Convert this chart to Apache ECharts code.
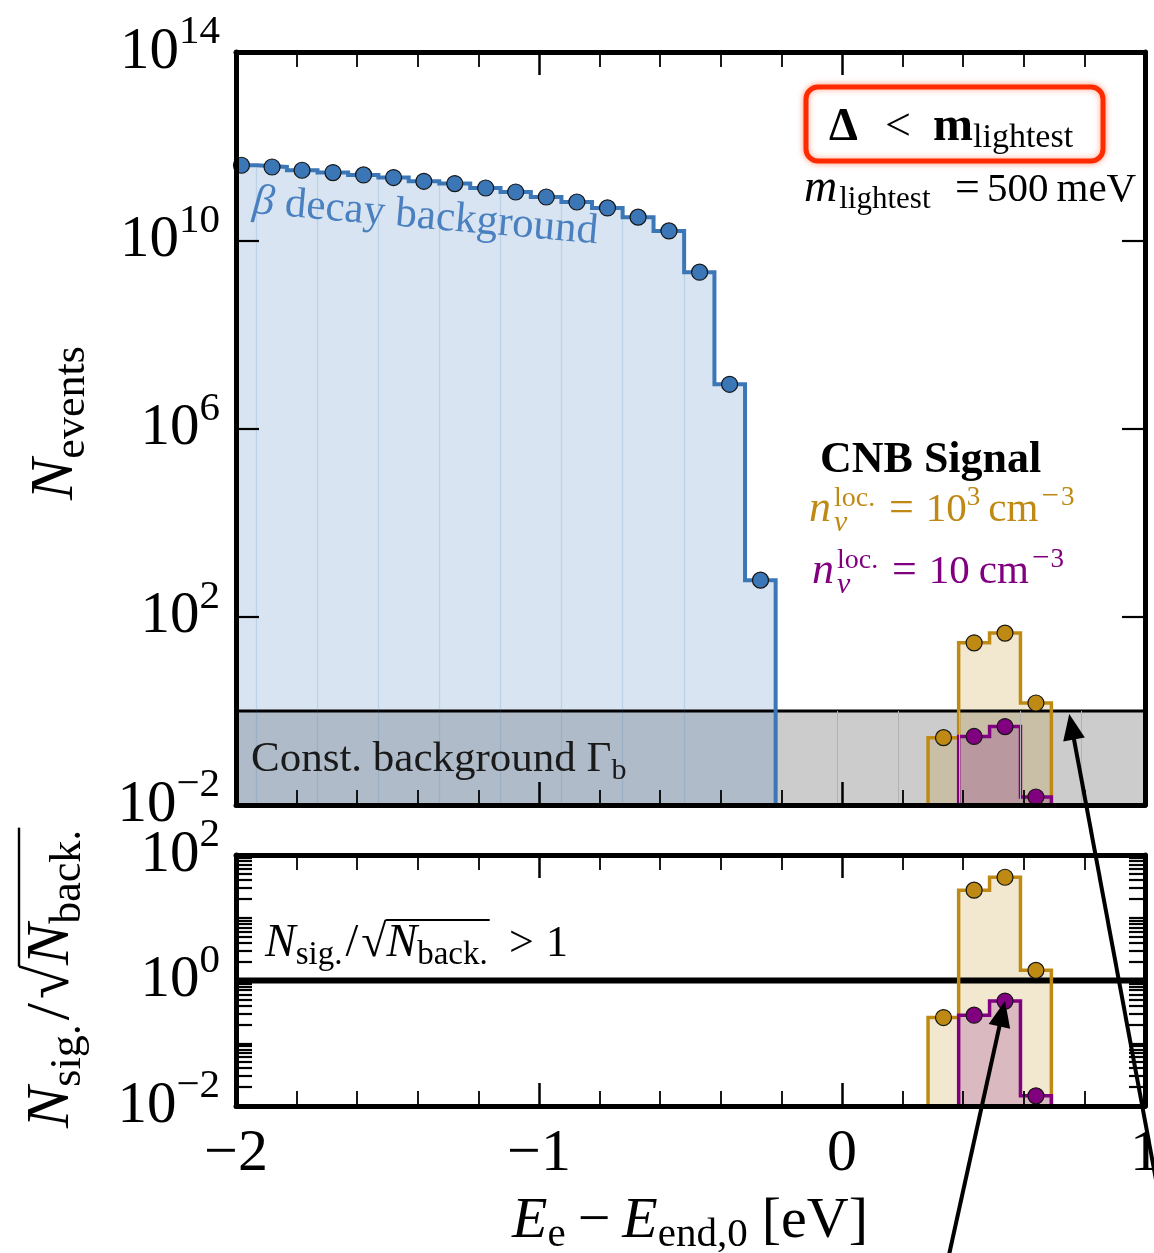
<!DOCTYPE html>
<html>
<head>
<meta charset="utf-8">
<script src="https://cdn.jsdelivr.net/npm/echarts@6/dist/echarts.min.js"></script>
<style>
  html, body { margin: 0; padding: 0; background: #fff; }
  #chart { width: 1154px; height: 1253px; }
</style>
</head>
<body>
<div id="chart"></div>
<script>
// ---- energy axis (E_e - E_end,0, eV) ----
const xMin = -2, xMax = 1;

// ---- beta-decay background: 0.1 eV bins ----
const betaEdges = [-2.032, -1.932, -1.832, -1.731, -1.630, -1.530, -1.430, -1.329, -1.227,
                   -1.127, -1.027, -0.926, -0.825, -0.724, -0.622, -0.521, -0.421, -0.320, -0.219];
const betaCenters = [-1.982, -1.881, -1.782, -1.680, -1.579, -1.480, -1.380, -1.278, -1.176,
                     -1.077, -0.976, -0.875, -0.774, -0.673, -0.571, -0.470, -0.371, -0.269];
const betaCounts = [3.92e11, 3.6e11, 3.07e11, 2.74e11, 2.44e11, 2.15e11, 1.79e11, 1.6e11, 1.29e11,
                    1.06e11, 8.3e10, 6.5e10, 4.86e10, 3.1e10, 1.58e10, 2.1e9, 8.7e6, 6.0e2];

// ---- constant background rate per bin ----
const gammaB = 1;

// ---- CNB signal bins ----
const goldEdges = [0.284, 0.385, 0.487, 0.589, 0.691];
const goldCenters = [0.335, 0.436, 0.538, 0.640];
const goldCounts = [0.27, 27.9, 44.9, 1.47];          // n_nu = 10^3 cm^-3
const purpleEdges = [0.385, 0.487, 0.589, 0.691];
const purpleCenters = [0.436, 0.538, 0.640];
const purpleCounts = [0.286, 0.464, 0.0148];          // n_nu = 10 cm^-3

// ---- significance N_sig / sqrt(N_back) ----
const goldRatio = [0.257, 27.5, 44.2, 1.45];
const purpleRatio = [0.28, 0.47, 0.0145];
const sigThreshold = 1;

// ---- axis ranges and tick labels ----
const nMin = 1e-2, nMax = 1e14;
const nTickValues = [1e2, 1e6, 1e10];
const nLabelValues = [1e-2, 1e2, 1e6, 1e10, 1e14];
const rMin = 1e-2, rMax = 1e2;
const rLabelValues = [1e-2, 1, 1e2];

// faint seams inside the filled regions
const grayBandX = [-0.015, 0.186, 0.387, 0.587, 0.788];

const blue = '#3b77b7', gold = '#bf8a14', purple = '#800080';
const SERIF = "'Liberation Serif', 'DejaVu Serif', serif";

// log-decade minor ticks (1..9 x 10^k) for the significance panel
const rTickValues = [];
for (let k = -2; k < 2; k++) for (let m = 1; m <= 9; m++) rTickValues.push(+(m * Math.pow(10, k)).toPrecision(3));
rTickValues.push(100);

function expLabel(v) {
  const n = Math.round(Math.log10(v));
  return '{b|10}{e|' + (n < 0 ? '\u2212' + (-n) : String(n)) + '}';
}
const expRich = {
  b: { fontSize: 59, fontFamily: SERIF, color: '#000' },
  e: { fontSize: 41, fontFamily: SERIF, color: '#000', padding: [0, 0, 39, 0] }
};

function xAxisCfg(grid, pos, showLabels) {
  return {
    type: 'value', gridIndex: grid, position: pos, min: xMin, max: xMax, interval: 1, z: 10,
    axisLine: { show: true, onZero: false, lineStyle: { color: '#000', width: 5 } },
    axisTick: { show: true, inside: true, length: 23, lineStyle: { color: '#000', width: 2.5 } },
    minorTick: { show: true, splitNumber: 5, length: 15, lineStyle: { color: '#000', width: 1.8 } },
    splitLine: { show: false }, minorSplitLine: { show: false },
    axisLabel: showLabels ? {
      show: true, margin: 18, fontSize: 60, fontFamily: SERIF, color: '#000',
      formatter: v => (v < 0 ? '\u2212' + Math.abs(v) : String(v))
    } : { show: false }
  };
}

function yAxisCfg(grid, pos, min, max, ticks, labels, tickLen) {
  return {
    type: 'log', logBase: 10, gridIndex: grid, position: pos, min, max, z: 10,
    axisLine: { show: true, onZero: false, lineStyle: { color: '#000', width: 5 } },
    axisTick: { show: true, inside: true, length: tickLen, customValues: ticks,
                lineStyle: { color: '#000', width: 2.2 } },
    minorTick: { show: false },
    splitLine: { show: false },
    axisLabel: labels ? {
      show: true, margin: 16, customValues: labels, formatter: expLabel, rich: expRich
    } : { show: false }
  };
}

function stepPath(edges, vals, floor) {
  const pts = [[edges[0], floor]];
  vals.forEach((v, i) => { pts.push([edges[i], v], [edges[i + 1], v]); });
  pts.push([edges[edges.length - 1], floor]);
  return pts;
}

function stepSeries(ax, edges, vals, floor, color, width, fill, fillOpacity, extra) {
  return Object.assign({
    type: 'line', xAxisIndex: ax, yAxisIndex: ax, data: stepPath(edges, vals, floor),
    showSymbol: false, symbol: 'none', silent: true, animation: false, clip: true,
    lineStyle: { color, width, join: 'miter' },
    areaStyle: { color: fill, opacity: fillOpacity, origin: 'start' }
  }, extra || {});
}

function dots(ax, xs, ys, color) {
  return {
    type: 'scatter', xAxisIndex: ax, yAxisIndex: ax, data: xs.map((x, i) => [x, ys[i]]),
    symbol: 'circle', symbolSize: 16, silent: true, animation: false, z: 6,
    itemStyle: { color, borderColor: '#151515', borderWidth: 1.2, opacity: 1 }
  };
}

// seams inside the beta fill at every second bin edge
const betaSeams = [];
for (let i = 1; i < betaEdges.length - 2; i += 2) {
  betaSeams.push([{ coord: [betaEdges[i], nMin] },
                  { coord: [betaEdges[i], Math.min(betaCounts[i - 1], betaCounts[i])] }]);
}

const series = [
  // constant background band
  stepSeries(0, [xMin, xMax], [gammaB], nMin, '#000', 3, '#cccccc', 1, {
    markLine: {
      silent: true, symbol: ['none', 'none'], label: { show: false }, animation: false,
      lineStyle: { color: '#b2b2b2', width: 1, type: 'solid' },
      data: grayBandX.map(x => [{ coord: [x, nMin] }, { coord: [x, gammaB] }])
    }
  }),
  // CNB signal
  stepSeries(0, goldEdges, goldCounts, nMin, gold, 3.5, gold, 0.2),
  stepSeries(0, purpleEdges, purpleCounts, nMin, purple, 3.5, purple, 0.2),
  // beta decay spectrum
  stepSeries(0, betaEdges, betaCounts, nMin, blue, 4, blue, 0.2, {
    markLine: {
      silent: true, symbol: ['none', 'none'], label: { show: false }, animation: false,
      lineStyle: { color: 'rgba(59,119,183,0.16)', width: 1.2, type: 'solid' },
      data: betaSeams
    }
  }),
  dots(0, betaCenters, betaCounts, blue),
  dots(0, goldCenters, goldCounts, gold),
  dots(0, purpleCenters, purpleCounts, purple),

  // significance panel
  {
    type: 'line', xAxisIndex: 2, yAxisIndex: 2, data: [[xMin, sigThreshold], [xMax, sigThreshold]],
    showSymbol: false, symbol: 'none', silent: true, animation: false,
    lineStyle: { color: '#000', width: 6 }
  },
  stepSeries(2, goldEdges, goldRatio, rMin, gold, 3.5, gold, 0.2),
  stepSeries(2, purpleEdges, purpleRatio, rMin, purple, 3.5, purple, 0.2),
  dots(2, goldCenters, goldRatio, gold),
  dots(2, purpleCenters, purpleRatio, purple)
];

const chart = echarts.init(document.getElementById('chart'), null, { renderer: 'canvas' });

chart.setOption({
  animation: false,
  backgroundColor: '#fff',
  textStyle: { fontFamily: SERIF },
  grid: [
    { left: 236, top: 52, width: 909, height: 753, containLabel: false, outerBoundsMode: 'none' },
    { left: 236, top: 855, width: 909, height: 251, containLabel: false, outerBoundsMode: 'none' }
  ],
  xAxis: [
    xAxisCfg(0, 'bottom', false), xAxisCfg(0, 'top', false),
    xAxisCfg(1, 'bottom', true), xAxisCfg(1, 'top', false)
  ],
  yAxis: [
    yAxisCfg(0, 'left', nMin, nMax, nTickValues, nLabelValues, 23),
    yAxisCfg(0, 'right', nMin, nMax, nTickValues, null, 23),
    yAxisCfg(1, 'left', rMin, rMax, rTickValues, rLabelValues, 16),
    yAxisCfg(1, 'right', rMin, rMax, rTickValues, null, 16)
  ],
  series
});

// ---- math-style text rows: pieces laid out on a common baseline ----
const mctx = document.createElement('canvas').getContext('2d');
function fontOf(p) { return (p.i ? 'italic ' : '') + (p.b ? 'bold ' : '') + p.s + 'px ' + SERIF; }

// parts: { t, s (size), i (italic), b (bold), rise, gap, at (absolute x), over (under root bar), root }
function mathRow(x0, baseY, parts, opt) {
  opt = opt || {};
  const kids = [];
  let x = 0, rootEnd = null, overEnd = null, rootTop = null;
  parts.forEach(p => {
    mctx.font = fontOf(p);
    mctx.textBaseline = 'middle';
    const toBase = mctx.measureText('H').actualBoundingBoxDescent;
    mctx.textBaseline = 'alphabetic';
    const m = mctx.measureText(p.t);
    if (p.at != null) x = p.at - x0; else x += (p.gap || 0);
    const rise = p.rise || 0;
    kids.push({
      type: 'text', x, y: -rise - toBase, silent: true, z: 100,
      style: { text: p.t, font: fontOf(p), fill: p.c || opt.color || '#000', align: 'left', verticalAlign: 'middle' }
    });
    if (p.root) { rootEnd = x + m.actualBoundingBoxRight; rootTop = -rise - m.actualBoundingBoxAscent; }
    x += m.width;
    if (p.over) overEnd = x;
  });
  if (rootEnd != null && overEnd != null) {
    kids.push({ type: 'line', silent: true, z: 100,
      shape: { x1: rootEnd - 1.5, y1: rootTop + 1, x2: overEnd + 2, y2: rootTop + 1 },
      style: { stroke: opt.color || '#000', lineWidth: opt.barWidth || 1.8 } });
  }
  const shift = opt.align === 'center' ? -x / 2 : opt.align === 'right' ? -x : 0;
  kids.forEach(k => { if (k.type === 'text') k.x += shift; else { k.shape.x1 += shift; k.shape.x2 += shift; } });
  return { type: 'group', x: x0, y: baseY, rotation: opt.rotation || 0, silent: true, children: kids };
}

const graphics = [
  // boxed regime label
  { type: 'rect', z: 99, silent: true, shape: { x: 806, y: 87, width: 297, height: 74, r: 12 },
    style: { fill: '#fff', stroke: '#ff2a00', lineWidth: 5, shadowBlur: 6, shadowColor: 'rgba(255,60,0,0.45)' } },
  mathRow(0, 140, [
    { t: '\u0394', s: 46, b: 1, at: 829 },
    { t: '<', s: 46, at: 885 },
    { t: 'm', s: 48, b: 1, at: 933 },
    { t: 'lightest', s: 34, rise: -7 }
  ]),
  mathRow(0, 201, [
    { t: 'm', s: 46, i: 1, at: 804 },
    { t: 'lightest', s: 31, rise: -7, gap: 2 },
    { t: '=', s: 44, at: 955 },
    { t: '500', s: 41, at: 987 },
    { t: 'meV', s: 41, gap: 8 }
  ]),

  // CNB signal legend
  mathRow(820, 472, [{ t: 'CNB Signal', s: 44, b: 1 }]),
  mathRow(0, 521, [
    { t: 'n', s: 44, i: 1, at: 809 },
    { t: 'loc.', s: 28, rise: 15, at: 834 },
    { t: '\u03bd', s: 30, i: 1, rise: -10, at: 834 },
    { t: '=', s: 44, at: 889 },
    { t: '10', s: 41, gap: 12 },
    { t: '3', s: 27, rise: 16 },
    { t: 'cm', s: 41, gap: 8 },
    { t: '\u2212', s: 31, rise: 16, gap: 3 },
    { t: '3', s: 27, rise: 16, gap: 2 }
  ], { color: gold }),
  mathRow(0, 583, [
    { t: 'n', s: 44, i: 1, at: 812 },
    { t: 'loc.', s: 28, rise: 15, at: 837 },
    { t: '\u03bd', s: 30, i: 1, rise: -10, at: 837 },
    { t: '=', s: 44, at: 892 },
    { t: '10', s: 41, gap: 12 },
    { t: 'cm', s: 41, gap: 9 },
    { t: '\u2212', s: 31, rise: 16, gap: 3 },
    { t: '3', s: 27, rise: 16, gap: 1 }
  ], { color: purple }),

  // region labels
  mathRow(252, 213, [
    { t: '\u03b2', s: 43, i: 1 },
    { t: ' decay background', s: 43 }
  ], { color: '#4a80bf', rotation: -0.088 }),
  mathRow(251, 771, [
    { t: 'Const. background \u0393', s: 43 },
    { t: 'b', s: 30, rise: -8 }
  ], { color: '#1a1a1a' }),
  mathRow(265, 956, [
    { t: 'N', s: 46, i: 1 },
    { t: 'sig.', s: 33, rise: -8 },
    { t: '/', s: 46, gap: 3 },
    { t: '\u221a', s: 46, gap: 3, root: 1 },
    { t: 'N', s: 46, i: 1, over: 1 },
    { t: 'back.', s: 33, rise: -8, over: 1 },
    { t: '>', s: 44, at: 509 },
    { t: '1', s: 44, at: 546 }
  ]),

  // axis titles
  mathRow(72, 500, [
    { t: 'N', s: 62, i: 1 },
    { t: 'events', s: 44, rise: -12 }
  ], { rotation: Math.PI / 2 }),
  mathRow(68, 1128, [
    { t: 'N', s: 62, i: 1 },
    { t: 'sig.', s: 44, rise: -12 },
    { t: '/', s: 62, gap: 4 },
    { t: '\u221a', s: 62, gap: 4, root: 1 },
    { t: 'N', s: 62, i: 1, over: 1 },
    { t: 'back.', s: 44, rise: -12, over: 1 }
  ], { rotation: Math.PI / 2, barWidth: 2.4 }),
  mathRow(690, 1237, [
    { t: 'E', s: 58, i: 1 },
    { t: 'e', s: 41, rise: -9 },
    { t: '\u2212', s: 58, gap: 12 },
    { t: 'E', s: 58, i: 1, gap: 12 },
    { t: 'end,0', s: 41, rise: -9 },
    { t: '[eV]', s: 58, gap: 14 }
  ], { align: 'center' })
];

// arrows pointing at the background level and the significance of the weaker signal
function arrow(tip, tail) {
  const dx = tip[0] - tail[0], dy = tip[1] - tail[1];
  const L = Math.hypot(dx, dy), ux = dx / L, uy = dy / L;
  const headLen = 26, halfW = 11;
  const bx = tip[0] - ux * headLen, by = tip[1] - uy * headLen;
  return [
    { type: 'line', z: 120, silent: true, shape: { x1: tail[0], y1: tail[1], x2: bx + ux * 2, y2: by + uy * 2 },
      style: { stroke: '#000', lineWidth: 4 } },
    { type: 'polygon', z: 121, silent: true,
      shape: { points: [[tip[0], tip[1]], [bx - uy * halfW, by + ux * halfW], [bx + uy * halfW, by - ux * halfW]] },
      style: { fill: '#000' } }
  ];
}
const tipA = chart.convertToPixel({ xAxisIndex: 2, yAxisIndex: 2 }, [purpleCenters[1], purpleRatio[1]]);
const tipB = chart.convertToPixel({ xAxisIndex: 0, yAxisIndex: 0 }, [0.75, gammaB]);
tipB[1] += 3;
graphics.push(...arrow(tipA, [tipA[0] - 64, tipA[1] + 290]));
graphics.push(...arrow(tipB, [tipB[0] + 94, tipB[1] + 505]));

chart.setOption({ graphic: graphics });
</script>
</body>
</html>
